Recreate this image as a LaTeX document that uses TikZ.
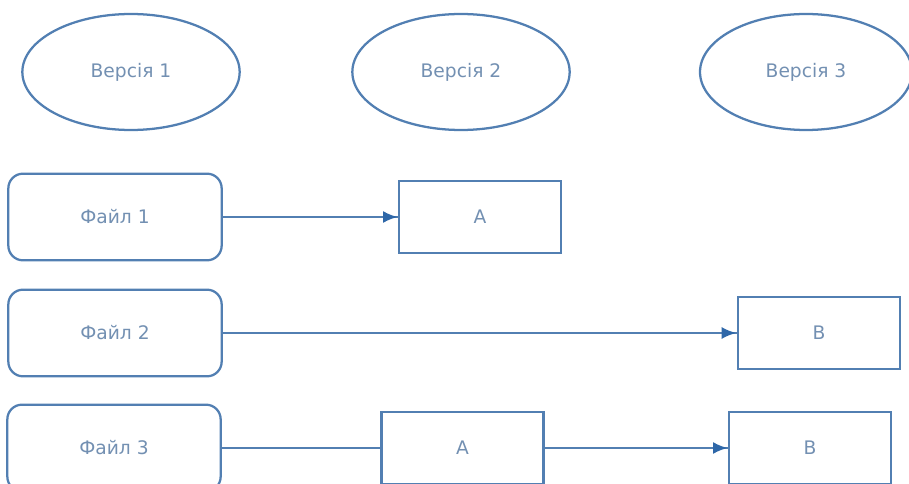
\documentclass[tikz,border=0pt]{standalone}
\usepackage{fontspec}
\setmainfont{DejaVu Sans}
\usepackage{xcolor}
\usetikzlibrary{positioning}
\usetikzlibrary{arrows.meta}
\usetikzlibrary{decorations.markings}
\usetikzlibrary{shapes.geometric}
\definecolor{lblue}{HTML}{527FB2}
\definecolor{tblue}{HTML}{7390B2}
\definecolor{ablue}{HTML}{2E67A8}
\tikzset{arr/.style = {decoration={markings,
                                  mark=at position 0.999
                                  with {\arrow[ablue]{Latex[length=11pt,width=9pt]}}},
                      postaction={decorate}}}
\tikzset{ver/.style = {draw=lblue, ellipse, minimum width=163pt, minimum height=87pt,
                       inner sep=0}}
\tikzset{file/.style = {draw=lblue, rounded corners=11pt, minimum width=160pt,
                        minimum height=65pt, inner sep=0}}
\tikzset{part/.style = {draw=lblue, minimum width=121.5pt, minimum height=54pt, inner sep=0}}

\begin{document}
\begin{tikzpicture}[x=0.75pt,y=-0.75pt,line width=1.7pt,
    every node/.style={text=tblue, font=\fontsize{14}{16}\selectfont}]
      \useasboundingbox (0,0) rectangle (909,484);
      \clip (0,0) rectangle (909,484);
      % versions
      \node[ver] (ver1) at (131,72) {Версія 1};
      \node[ver] (ver2) at (461,72) {Версія 2};
      \node[ver, minimum width=159pt] (ver3) at (806,72) {Версія 3};
      % files
      \node[file] (file1) at (115,217) {Файл 1};
      \node[file] (file2) at (115,333) {Файл 2};
      \node[file] (file3) at (114,448) {Файл 3};
      % parts
      \node[part] (a1) at (480,217) {A};
      \node[part] (b2) at (819,333) {B};
      \node[part] (a3) at (462.5,448) {A};
      \node[part] (b3) at (810,448) {B};
      \draw[lblue, arr] (file1) -- (a1);
      \draw[lblue, arr] (file2) -- (b2);
      \draw[lblue] (file3) -- (a3);
      \draw[lblue, arr] (a3) -- (b3);
    \end{tikzpicture}
\end{document}
